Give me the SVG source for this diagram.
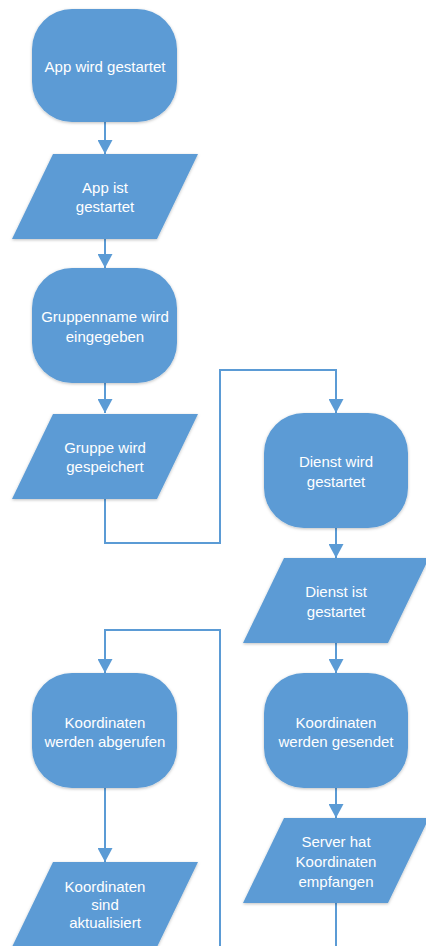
<svg xmlns="http://www.w3.org/2000/svg" width="426" height="946" viewBox="0 0 426 946">
<style>
.s{fill:#5B9BD5;filter:url(#sh)}
.t{fill:#FFFFFF;font-family:"Liberation Sans",Arial,sans-serif;font-size:15px;text-anchor:middle}
.c{fill:none;stroke:#5B9BD5;stroke-width:2}
</style>
<defs>
<filter id="sh" x="-10%" y="-10%" width="120%" height="125%">
<feDropShadow dx="0" dy="1" stdDeviation="1.5" flood-color="#000" flood-opacity="0.25"/>
</filter>
<marker id="ah" markerWidth="15" markerHeight="15" refX="14" refY="7.5" orient="auto" markerUnits="userSpaceOnUse">
<path d="M0,0 L14,7.5 L0,15 Z" fill="#5B9BD5"/>
</marker>
</defs>
<rect width="426" height="946" fill="#FFFFFF"/>
<g id="connectors">
<path class="c" d="M105,122 V154" marker-end="url(#ah)"/>
<path class="c" d="M105,239 V268" marker-end="url(#ah)"/>
<path class="c" d="M105,383 V413" marker-end="url(#ah)"/>
<path class="c" d="M105,499 V543 H220 V370 H336 V413" marker-end="url(#ah)"/>
<path class="c" d="M336,528 V558" marker-end="url(#ah)"/>
<path class="c" d="M336,643 V673" marker-end="url(#ah)"/>
<path class="c" d="M336,788 V818" marker-end="url(#ah)"/>
<path class="c" d="M336,903 V950"/>
<path class="c" d="M220,950 V630 H105 V673" marker-end="url(#ah)"/>
<path class="c" d="M105,788 V862" marker-end="url(#ah)"/>
</g>
<g id="n1">
<rect class="s" x="32" y="9" width="145" height="113" rx="40" ry="40"/>
<text class="t" x="105" y="72">App wird gestartet</text>
</g>
<g id="n2">
<polygon class="s" points="53,154 198,154 157,239 12,239"/>
<text class="t" x="105" y="193">App ist</text>
<text class="t" x="105" y="212">gestartet</text>
</g>
<g id="n3">
<rect class="s" x="32" y="268" width="145" height="115" rx="40" ry="40"/>
<text class="t" x="105" y="322">Gruppenname wird</text>
<text class="t" x="105" y="342">eingegeben</text>
</g>
<g id="n4">
<polygon class="s" points="53,414 198,414 157,499 12,499"/>
<text class="t" x="105" y="453">Gruppe wird</text>
<text class="t" x="105" y="472">gespeichert</text>
</g>
<g id="n5">
<rect class="s" x="264" y="413" width="144" height="115" rx="40" ry="40"/>
<text class="t" x="336" y="467">Dienst wird</text>
<text class="t" x="336" y="487">gestartet</text>
</g>
<g id="n6">
<polygon class="s" points="284,558 429,558 388,643 243,643"/>
<text class="t" x="336" y="597">Dienst ist</text>
<text class="t" x="336" y="617">gestartet</text>
</g>
<g id="n7">
<rect class="s" x="264" y="673" width="144" height="115" rx="40" ry="40"/>
<text class="t" x="336" y="728">Koordinaten</text>
<text class="t" x="336" y="747">werden gesendet</text>
</g>
<g id="n8">
<polygon class="s" points="284,818 429,818 388,903 243,903"/>
<text class="t" x="336" y="847">Server hat</text>
<text class="t" x="336" y="867">Koordinaten</text>
<text class="t" x="336" y="887">empfangen</text>
</g>
<g id="n9">
<rect class="s" x="32" y="673" width="145" height="115" rx="40" ry="40"/>
<text class="t" x="105" y="728">Koordinaten</text>
<text class="t" x="105" y="747">werden abgerufen</text>
</g>
<g id="n10">
<polygon class="s" points="53,862 198,862 157,947 12,947"/>
<text class="t" x="105" y="892">Koordinaten</text>
<text class="t" x="105" y="910">sind</text>
<text class="t" x="105" y="928">aktualisiert</text>
</g>
</svg>
